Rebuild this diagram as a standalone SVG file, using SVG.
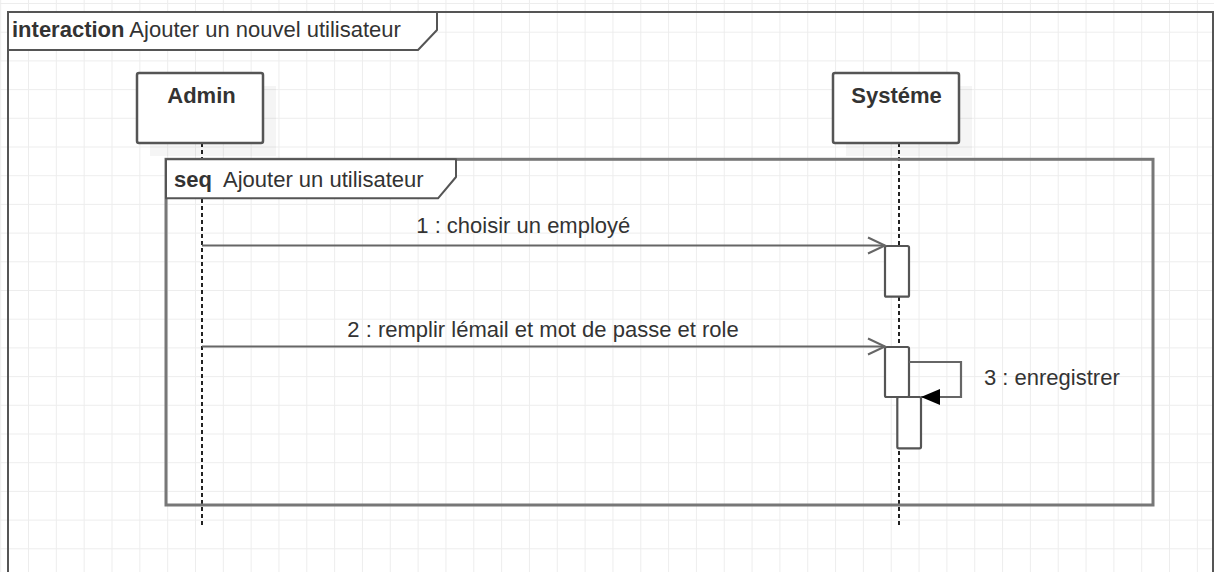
<svg xmlns="http://www.w3.org/2000/svg" width="1214" height="572" viewBox="0 0 1214 572">
  <defs>
    <style>
      .t{font-family:"Liberation Sans",Arial,sans-serif;font-size:22px;fill:#333}
      .b{font-weight:bold}
      .frame{fill:none;stroke:#555;stroke-width:2}
      .seqframe{fill:none;stroke:#777;stroke-width:3}
      .tab{fill:#fff;stroke:#555;stroke-width:2;stroke-linejoin:round}
      .box{fill:#fff;stroke:#555;stroke-width:2.5}
      .shadow{fill:#000;fill-opacity:0.04}
      .life{fill:none;stroke:#222;stroke-width:2;stroke-dasharray:4 3}
      .msg{fill:none;stroke:#666;stroke-width:2.2}
      .act{fill:#fff;stroke:#555;stroke-width:2.2}
    </style>
    <pattern id="grid" x="0.17" y="3" width="27.83" height="28.7" patternUnits="userSpaceOnUse">
      <path d="M0 0V28.7M0 0H27.83" fill="none" stroke="#ededed" stroke-width="2"/>
    </pattern>
    <marker id="open" viewBox="0 0 17 16" refX="17" refY="8" markerWidth="17" markerHeight="16" markerUnits="userSpaceOnUse" orient="auto" overflow="visible">
      <path d="M0 0L17 8L0 16" fill="none" stroke="#666" stroke-width="2"/>
    </marker>
    <marker id="filled" viewBox="0 0 19 16" refX="19" refY="8" markerWidth="19" markerHeight="16" markerUnits="userSpaceOnUse" orient="auto">
      <path d="M0 0L19 8L0 16Z" fill="#000"/>
    </marker>
  </defs>

  <!-- background grid -->
  <rect width="1214" height="572" fill="#fff"/>
  <rect width="1214" height="572" fill="url(#grid)"/>

  <!-- outer interaction frame -->
  <g id="interaction-frame">
    <path class="frame" d="M8 600V12H1213V600"/>
    <path class="tab" d="M8 12H437V30L418 50H8Z"/>
    <text class="t" x="12" y="37"><tspan class="b">interaction</tspan> Ajouter un nouvel utilisateur</text>
  </g>

  <!-- lifelines -->
  <g id="lifelines">
    <path class="life" d="M202 143V528"/>
    <path class="life" d="M899 143V528"/>
  </g>

  <!-- seq combined fragment -->
  <g id="seq-fragment">
    <rect class="seqframe" x="166" y="159.3" width="987" height="345.7"/>
    <path class="tab" d="M166 159.3H456V177L438 198.3H166Z"/>
    <text class="t" x="174" y="187"><tspan class="b">seq</tspan><tspan x="223">Ajouter un utilisateur</tspan></text>
  </g>

  <!-- actors -->
  <g id="admin">
    <rect class="shadow" x="150" y="86" width="126" height="70"/>
    <rect class="box" x="137" y="73" width="126" height="70" rx="2"/>
    <text class="t b" x="201.5" y="103" text-anchor="middle">Admin</text>
  </g>
  <g id="systeme">
    <rect class="shadow" x="846" y="86" width="126" height="70"/>
    <rect class="box" x="833" y="73" width="126" height="70" rx="2"/>
    <text class="t b" x="896.5" y="103" text-anchor="middle">Systéme</text>
  </g>

  <!-- activation bars -->
  <g id="activations">
    <rect class="act" x="885" y="246" width="24" height="50.7" rx="1.5"/>
    <rect class="act" x="885" y="347" width="24" height="50" rx="1.5"/>
    <rect class="act" x="897.3" y="397" width="23.7" height="51.3" rx="1.5"/>
  </g>

  <!-- messages -->
  <g id="connectors">
    <path class="msg" d="M202 245.5H885" marker-end="url(#open)"/>
    <text class="t" x="523.3" y="233" text-anchor="middle">1 : choisir un employé</text>
    <path class="msg" d="M202 346.5H885" marker-end="url(#open)"/>
    <text class="t" x="543" y="336.7" text-anchor="middle">2 : remplir lémail et mot de passe et role</text>
    <path class="msg" d="M909 362H961V397H921" marker-end="url(#filled)"/>
    <text class="t" x="984" y="385">3 : enregistrer</text>
  </g>
</svg>
